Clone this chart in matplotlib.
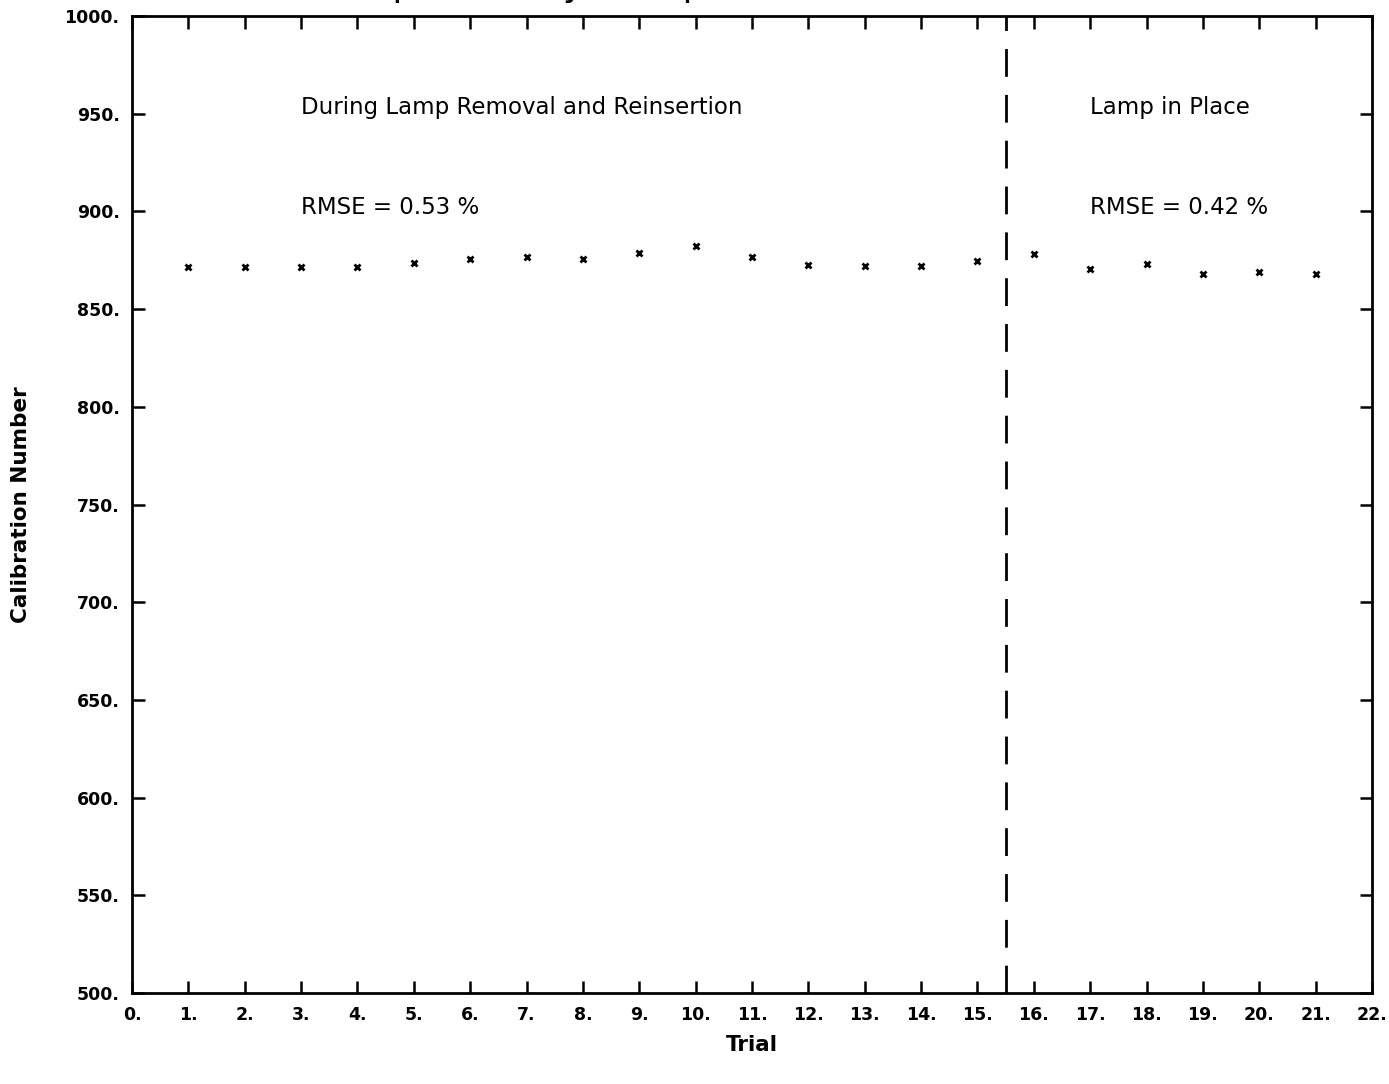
import matplotlib
matplotlib.use("Agg")
import matplotlib.pyplot as plt

# calibration numbers, one per trial
trials = list(range(1, 22))
calib = [871.5, 871.5, 871.5, 871.5, 873.6, 875.6, 876.7, 875.6, 878.7, 882.3,
         876.7, 872.6, 872.0, 872.0, 874.6,
         878.2, 870.5, 873.1, 868.0, 869.0, 868.0]
split_at = 15.5
xticks = list(range(0, 23))
yticks = list(range(500, 1001, 50))

fig = plt.figure(figsize=(13.89, 10.84), dpi=100)
ax = fig.add_axes([132 / 1389, 1 - 993 / 1084, 1240 / 1389, 977 / 1084])

ax.plot(trials, calib, linestyle="none", marker="x", ms=5, mew=2, color="black")
ax.axvline(split_at, color="black", lw=2, dashes=(10, 6.5))

ax.set_xlim(0, 22)
ax.set_ylim(500, 1000)
ax.set_xticks(xticks)
ax.set_xticklabels([f"{t}." for t in xticks], fontweight="bold", fontsize=12.5)
ax.set_yticks(yticks)
ax.set_yticklabels([f"{v}." for v in yticks], fontweight="bold", fontsize=12.5)
ax.tick_params(direction="in", length=9, width=1.8, top=True, right=True, pad=9)
for s in ax.spines.values():
    s.set_linewidth(2)

ax.set_xlabel("Trial", fontsize=15.5, fontweight="semibold", labelpad=8)
ax.set_ylabel("Calibration Number", fontsize=15.5, fontweight="semibold", labelpad=24)

ax.text(3.0, 953, "During Lamp Removal and Reinsertion", fontsize=16.5, va="center")
ax.text(3.0, 902, "RMSE = 0.53 %", fontsize=16.5, va="center")
ax.text(17.0, 953, "Lamp in Place", fontsize=16.5, va="center")
ax.text(17.0, 902, "RMSE = 0.42 %", fontsize=16.5, va="center")

# title sits almost entirely above the page edge, as in the scan
fig.text(0.545, 1 + 4 / 1084, "Repeatability: Lamp Removal and Reinsertion",
         fontsize=26, ha="center", va="baseline")

fig.savefig("out.png", dpi=100)
